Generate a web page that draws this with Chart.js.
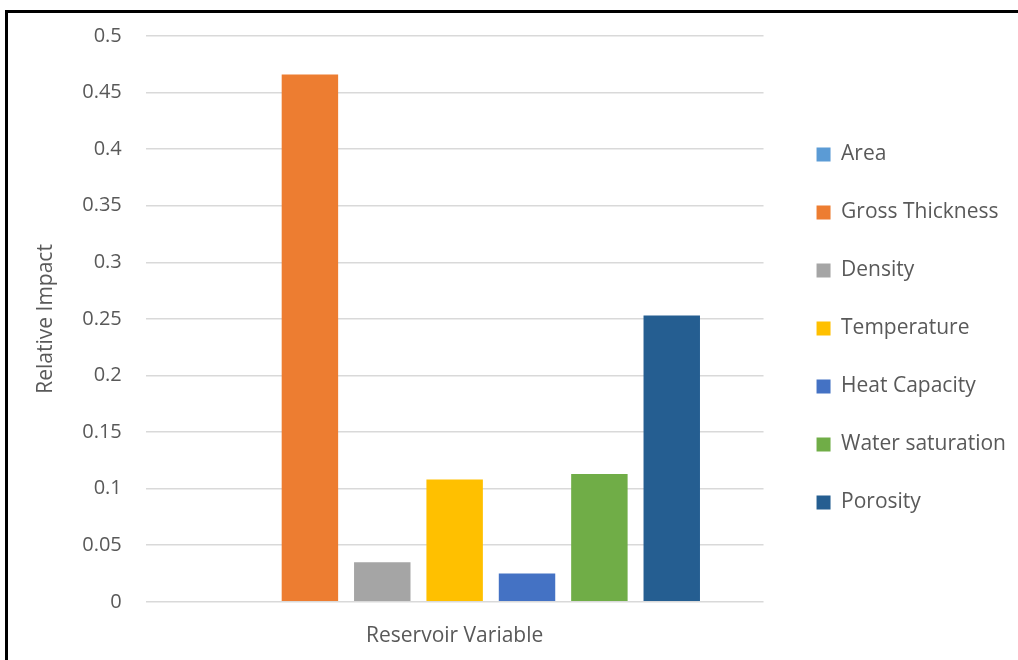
<!DOCTYPE html>
<html>
<head>
<meta charset="utf-8">
<script src="https://cdn.jsdelivr.net/npm/chart.js@4.4.1/dist/chart.umd.min.js"></script>
<style>
  html, body { margin: 0; padding: 0; background: #fff; }
  #frame {
    position: absolute; left: 5px; top: 10px;
    width: 1020px; height: 660px;
    border-top: 3px solid #000; border-left: 3px solid #000;
  }
  #wrap { position: absolute; left: 0; top: 0; width: 1010px; height: 647px; }
</style>
</head>
<body>
<div id="frame"><div id="wrap"><canvas id="myChart"></canvas></div></div>
<script>
// data
const categories = [''];
const seriesNames = ['Area', 'Gross Thickness', 'Density', 'Temperature', 'Heat Capacity', 'Water saturation', 'Porosity'];
const seriesValues = [0, 0.466, 0.035, 0.108, 0.025, 0.113, 0.253];
const seriesColors = ['#5b9bd5', '#ed7d31', '#a5a5a5', '#ffc000', '#4472c4', '#70ad47', '#255e91'];

const fontFamily = "'Open Sans', sans-serif";
const textColor = '#595959';

const datasets = seriesNames.map((name, i) => ({
    label: name,
    data: [seriesValues[i]],
    backgroundColor: seriesColors[i],
    borderWidth: 0,
    barPercentage: 0.78,
    categoryPercentage: 0.82
}));

// nudge the legend: a bit further from the plot and a little higher
const legendShift = {
    id: 'legendShift',
    afterLayout(chart) {
        const lg = chart.legend;
        if (!lg) return;
        lg.left += 16;
        lg.right += 16;
        lg.top -= 14;
        lg.bottom -= 14;
    }
};

const ctx = document.getElementById('myChart').getContext('2d');
new Chart(ctx, {
    type: 'bar',
    data: { labels: categories, datasets: datasets },
    plugins: [legendShift],
    options: {
        responsive: true,
        maintainAspectRatio: false,
        animation: false,
        layout: { padding: { left: 25, right: 18, top: 23, bottom: 11 } },
        scales: {
            x: {
                grid: { display: false },
                border: { display: false },
                ticks: { display: false },
                title: {
                    display: true,
                    text: 'Reservoir Variable',
                    color: textColor,
                    font: { family: fontFamily, size: 21 },
                    padding: { top: 14, bottom: 0 }
                }
            },
            y: {
                min: 0,
                max: 0.5,
                ticks: {
                    stepSize: 0.05,
                    color: textColor,
                    padding: 0,
                    font: { family: fontFamily, size: 20 },
                    callback: v => +v.toFixed(2)
                },
                grid: {
                    color: '#d9d9d9',
                    lineWidth: 1.5,
                    drawTicks: true,
                    tickLength: 24,
                    tickColor: 'rgba(0,0,0,0)'
                },
                border: { display: false },
                title: {
                    display: true,
                    text: 'Relative Impact',
                    color: textColor,
                    font: { family: fontFamily, size: 21 },
                    padding: { top: 0, bottom: 24 }
                }
            }
        },
        plugins: {
            tooltip: { enabled: false },
            legend: {
                position: 'right',
                labels: {
                    color: textColor,
                    font: { family: fontFamily, size: 21 },
                    boxWidth: 14,
                    boxHeight: 14,
                    padding: 37
                }
            }
        }
    }
});
</script>
</body>
</html>
